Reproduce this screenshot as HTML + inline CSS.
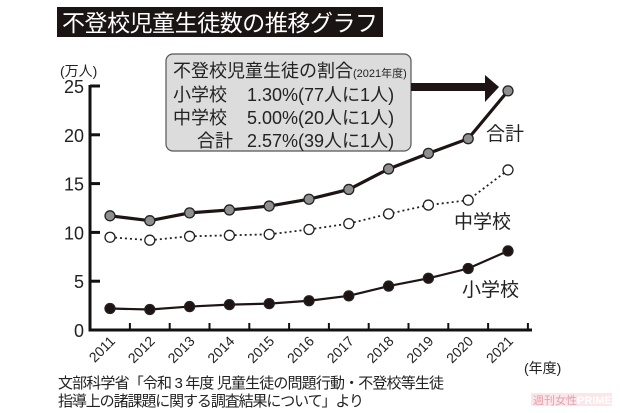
<!DOCTYPE html>
<html><head><meta charset="utf-8"><style>
body{margin:0;background:#fff;}
svg{display:block;font-family:"Liberation Sans","Noto Sans CJK JP",sans-serif;}
</style></head><body>
<svg id="c" width="620" height="413" viewBox="0 0 620 413">
<rect x="57" y="7" width="326" height="30" fill="#1a1414"/>
<text x="62" y="31" font-size="23" fill="#fff" textLength="316">不登校児童生徒数の推移グラフ</text>
<text x="60" y="76" font-size="14" fill="#222">(万人)</text>
<g id="axes"></g>
<g id="series"></g>
<rect x="166" y="54" width="245" height="97" rx="7" fill="#dcdcdc" stroke="#555" stroke-width="1.2"/>
<text x="173" y="77" font-size="18" fill="#222">不登校児童生徒の割合<tspan font-size="11">(2021年度)</tspan></text>
<g font-size="18" fill="#222">
<text x="173" y="101">小学校</text>
<text x="247" y="101">1.30%(77人に1人)</text>
<text x="173" y="124">中学校</text>
<text x="247" y="124">5.00%(20人に1人)</text>
<text x="197" y="147">合計</text>
<text x="247" y="147">2.57%(39人に1人)</text>
</g>
<rect x="411" y="83" width="75" height="8" fill="#1e1414"/>
<polygon points="485,75 499,87 485,102" fill="#1e1414"/>
<text x="486" y="140" font-size="19" fill="#222">合計</text>
<text x="454" y="228" font-size="19" fill="#222">中学校</text>
<text x="462" y="296" font-size="19" fill="#222">小学校</text>
<text x="524" y="373" font-size="14" fill="#222">(年度)</text>
<text x="58" y="388" font-size="15" fill="#222" textLength="386">文部科学省「令和 3 年度 児童生徒の問題行動・不登校等生徒</text>
<text x="58" y="406" font-size="15" fill="#222" textLength="306">指導上の諸課題に関する調査結果について」より</text>
<rect x="531" y="393" width="81" height="13" fill="#fbe6ea"/>
<text x="533" y="404" font-size="11" fill="#e2a0ae">週刊女性<tspan fill="#fff" font-weight="bold">PRIME</tspan></text>
</svg>
<script>
const years = ['2011','2012','2013','2014','2015','2016','2017','2018','2019','2020','2021'];
const totalValues = [11.7,11.2,12.0,12.3,12.7,13.4,14.4,16.5,18.1,19.6,24.5];
const middleValues = [9.5,9.2,9.6,9.7,9.8,10.3,10.9,11.9,12.8,13.3,16.4];
const elementaryValues = [2.2,2.1,2.4,2.6,2.7,3.0,3.5,4.5,5.3,6.3,8.1];
const yTicks = [0,5,10,15,20,25];

const NS='http://www.w3.org/2000/svg';
const x0=110, dx=39.8, yBase=330, yScale=9.76;
function xPos(i){return x0+i*dx;}
function yPos(v){return yBase-v*yScale;}
function mk(tag,attrs,parent){const e=document.createElementNS(NS,tag);for(const k in attrs)e.setAttribute(k,attrs[k]);parent.appendChild(e);return e;}
const axes=document.getElementById('axes'), series=document.getElementById('series');
let e;
e=mk('line',{x1:90,y1:yPos(25)-1,x2:90,y2:yBase+1,stroke:'#111','stroke-width':3},axes);


e=mk('line',{x1:88.5,y1:yBase,x2:532,y2:yBase,stroke:'#111','stroke-width':3},axes);


yTicks.forEach(t=>{
  const y=yPos(t);
  let l=mk('line',{x1:90,y1:y,x2:100,y2:y,stroke:'#111','stroke-width':3},axes);
  
  
  let tx=mk('text',{x:84,y:y+7,'font-size':18,'text-anchor':'end',fill:'#222'},axes);
  tx.textContent=t;
  
  
});
years.forEach((yr,i)=>{
  const xt=xPos(i)+dx/2;
  let l=mk('line',{x1:xt,y1:yBase-7,x2:xt,y2:yBase,stroke:'#111','stroke-width':2},axes);
  
  
  const cx=xPos(i)+6, cy=342;
  let tx=mk('text',{x:cx,y:cy,'font-size':14,'text-anchor':'end',fill:'#222',transform:`rotate(-45 ${cx} ${cy})`},axes);
  tx.textContent=yr;
  
  
});
function drawSeries(vals,name,lineAttrs,fill){
  const pts=vals.map((v,i)=>xPos(i)+','+yPos(v)).join(' ');
  let pl=mk('polyline',Object.assign({points:pts,fill:'none'},lineAttrs),series);
  
  
  vals.forEach((v,i)=>{
    let c=mk('circle',{cx:xPos(i),cy:yPos(v),r:5,fill:fill,stroke:'#222','stroke-width':1.3},series);
    
    
  });
}
drawSeries(totalValues,'total',{stroke:'#1e1414','stroke-width':3.2},'#8f8f8f');
drawSeries(middleValues,'middle',{stroke:'#222','stroke-width':1.8,'stroke-dasharray':'2 3'},'#fff');
drawSeries(elementaryValues,'elementary',{stroke:'#1e1414','stroke-width':2.2},'#1e1414');
</script>
</body></html>
